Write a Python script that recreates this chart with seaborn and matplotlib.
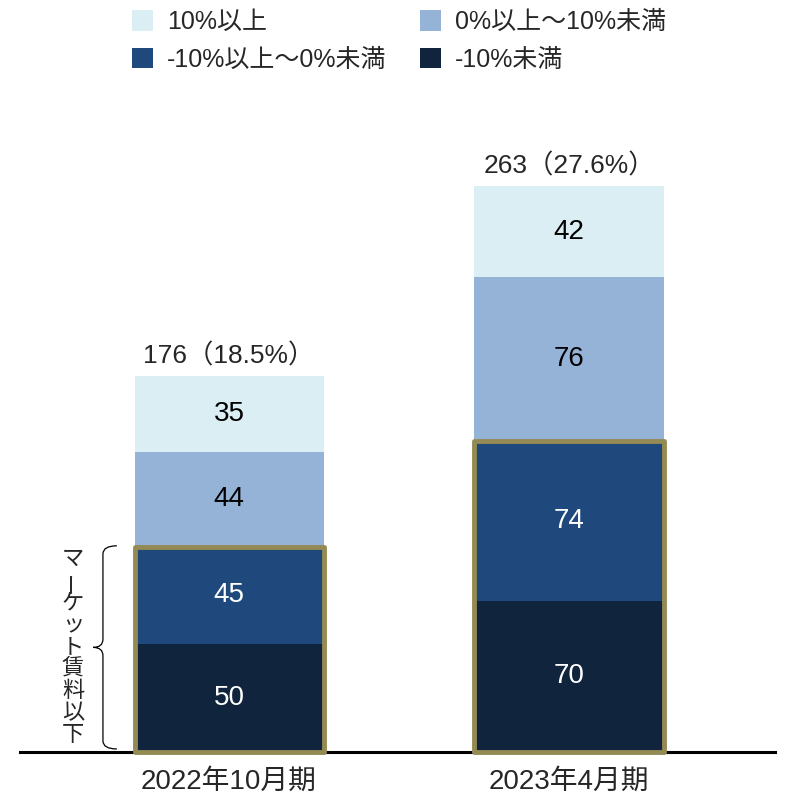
import matplotlib
matplotlib.use("Agg")
import matplotlib.pyplot as plt
import seaborn as sns
import pandas as pd
import numpy as np
from matplotlib.patches import Rectangle, Patch
from matplotlib.path import Path
from matplotlib.patches import PathPatch

# data
periods = ["2022年10月期", "2023年4月期"]
layer_names = ["-10%未満", "-10%以上～0%未満", "0%以上～10%未満", "10%以上"]
below_m10 = [50, 70]
m10_to_0 = [45, 74]
p0_to_10 = [44, 76]
above_10 = [35, 42]
total_labels = ["176（18.5%）", "263（27.6%）"]
brace_text = "マーケット賃料以下"

layers = [below_m10, m10_to_0, p0_to_10, above_10]
colors = ["#10243e", "#1f497d", "#95b3d7", "#dbeef4"]
text_colors = ["white", "white", "black", "black"]

sns.set_theme(style="white")
plt.rcParams["font.family"] = ["Liberation Sans", "Noto Sans CJK JP"]

fig = plt.figure(figsize=(7.85, 7.95), dpi=100)
ax = fig.add_axes([20 / 785, 43 / 795, 755 / 785, 652 / 795])

bar_w = 0.556
bottoms = np.zeros(len(periods))
for vals, name, col, tc in zip(layers, layer_names, colors, text_colors):
    df = pd.DataFrame({"period": periods, "count": vals})
    sns.barplot(data=df, x="period", y="count", bottom=bottoms, color=col,
                width=bar_w, errorbar=None, saturation=1, linewidth=0, ax=ax)
    for i, v in enumerate(vals):
        ax.text(i, bottoms[i] + v / 2, str(v), ha="center", va="center",
                fontsize=20, color=tc)
    bottoms = bottoms + np.array(vals)

# totals above bars
for i, lab in enumerate(total_labels):
    ax.annotate(lab, xy=(i, bottoms[i]), xytext=(0, 6), textcoords="offset points",
                ha="center", va="bottom", fontsize=19)

# olive frame around "below market" segments
below = np.array(below_m10) + np.array(m10_to_0)
for i, h in enumerate(below):
    ax.add_patch(Rectangle((i - bar_w / 2, 0), bar_w, h, fill=False,
                           edgecolor="#948a54", linewidth=3.5, joinstyle="round",
                           zorder=5, clip_on=False))

# brace on the left of first bar
xs, xe, xt = -0.371, -0.330, -0.400
yt, yb = below[0] + 0.5, 1.4
ym = (yt + yb) / 2
r = 3.8
verts = [(xe, yt), (xs, yt), (xs, yt - r), (xs, ym + r), (xs, ym), (xt, ym),
         (xs, ym), (xs, ym - r), (xs, yb + r), (xs, yb), (xe, yb)]
codes = [Path.MOVETO, Path.CURVE3, Path.CURVE3, Path.LINETO, Path.CURVE3, Path.CURVE3,
         Path.CURVE3, Path.CURVE3, Path.LINETO, Path.CURVE3, Path.CURVE3]
ax.add_patch(PathPatch(Path(verts, codes), fill=False, edgecolor="black",
                       linewidth=0.9, clip_on=False))

n = len(brace_text)
for k, ch in enumerate(brace_text):
    ax.annotate(ch, xy=(-0.459, ym), xytext=(0, ((n - 1) / 2 - k) * 15.8),
                textcoords="offset points", ha="center", va="center",
                fontsize=16, rotation=90 if ch == "ー" else 0)

ax.set_xlim(-0.615, 1.606)
ax.set_ylim(0, 302)
ax.set_xlabel("")
ax.set_ylabel("")
ax.set_yticks([])
ax.tick_params(axis="x", length=0, pad=12, labelsize=20)
for s in ["top", "left", "right"]:
    ax.spines[s].set_visible(False)
ax.spines["bottom"].set_color("black")
ax.spines["bottom"].set_linewidth(2.2)
ax.set_facecolor("white")

# legend: row 1 = 10%以上, 0%以上～10%未満 ; row 2 = -10%以上～0%未満, -10%未満
order = [3, 1, 2, 0]
handles = [Patch(facecolor=colors[j], edgecolor="none") for j in order]
labels = [layer_names[j] for j in order]
fig.legend(handles, labels, ncol=2, loc="upper left",
           bbox_to_anchor=(132 / 785, 1 - 10 / 795), frameon=False,
           fontsize=18, handlelength=0.84, handleheight=0.88, handletextpad=0.56,
           columnspacing=1.35, labelspacing=0.55, borderpad=0, borderaxespad=0)

fig.savefig("out.png", dpi=100, facecolor="white")
